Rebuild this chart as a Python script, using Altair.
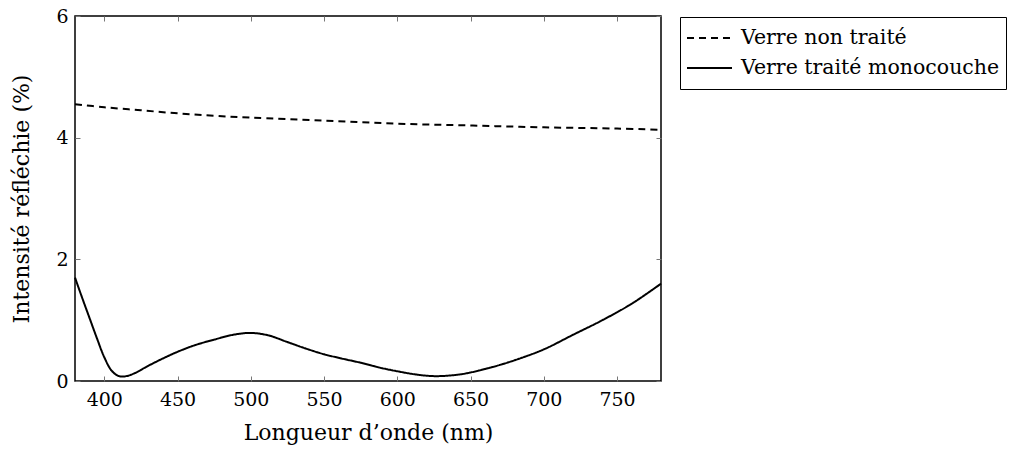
import altair as alt
import pandas as pd

series_names = ["Verre non traité", "Verre traité monocouche"]

nm_untreated = [380, 400, 425, 450, 475, 500, 550, 600, 650, 700, 750, 780]
r_untreated = [4.55, 4.50, 4.45, 4.40, 4.36, 4.33, 4.28, 4.23, 4.20, 4.17, 4.15, 4.13]

nm_treated = [380, 385, 390, 395, 400, 405, 410, 415, 420, 430, 440, 450, 462, 475, 488,
              500, 512, 525, 538, 550, 562, 575, 588, 600, 612, 625, 640, 650,
              665, 680, 700, 720, 740, 760, 780]
r_treated = [1.70, 1.36, 1.03, 0.70, 0.39, 0.17, 0.08, 0.08, 0.12, 0.25, 0.37, 0.48, 0.59, 0.68, 0.76,
             0.79, 0.75, 0.64, 0.53, 0.44, 0.37, 0.30, 0.22, 0.16, 0.11, 0.08, 0.10, 0.14,
             0.23, 0.34, 0.52, 0.76, 1.00, 1.27, 1.60]

x_ticks = [400, 450, 500, 550, 600, 650, 700, 750]
y_ticks = [0, 2, 4, 6]

df = pd.concat([
    pd.DataFrame({"nm": nm_untreated, "r": r_untreated, "serie": series_names[0]}),
    pd.DataFrame({"nm": nm_treated, "r": r_treated, "serie": series_names[1]}),
])

FONT = "DejaVu Serif"
xscale = alt.Scale(domain=[380, 780], nice=False, zero=False)
yscale = alt.Scale(domain=[0, 6], nice=False)

base_axis = dict(domain=False, grid=False, tickSize=5, tickColor="#777", tickWidth=1,
                 offset=-5, labelFont=FONT, labelFontSize=19, labelColor="black",
                 titleFont=FONT, titleFontSize=22, titleFontWeight="normal", titleColor="black")

lines = alt.Chart(df).mark_line(color="black", strokeWidth=2, interpolate="catmull-rom").encode(
    x=alt.X("nm:Q", scale=xscale,
            axis=alt.Axis(orient="bottom", values=x_ticks, title="Longueur d’onde (nm)",
                          labelPadding=9, titlePadding=13, **base_axis)),
    y=alt.Y("r:Q", scale=yscale,
            axis=alt.Axis(orient="left", values=y_ticks, title="Intensité réfléchie (%)",
                          labelPadding=7, titlePadding=22, **base_axis)),
    strokeDash=alt.StrokeDash("serie:N",
                              scale=alt.Scale(domain=series_names, range=[[7, 5], [1, 0]]),
                              legend=alt.Legend(title=None, orient="none", legendX=605, legendY=1,
                                                strokeColor="black", padding=6, fillColor="white",
                                                symbolType="stroke", symbolSize=2025,
                                                symbolStrokeWidth=2, symbolStrokeColor="black",
                                                labelFont=FONT, labelFontSize=20.5, labelColor="black",
                                                labelLimit=0, labelOffset=8, rowPadding=0,
                                                clipHeight=30)),
)

frame_axes = alt.Chart(df).mark_line(opacity=0).encode(
    x=alt.X("nm:Q", scale=xscale,
            axis=alt.Axis(orient="top", values=x_ticks, labels=False, title=None, **base_axis)),
    y=alt.Y("r:Q", scale=yscale,
            axis=alt.Axis(orient="right", values=y_ticks, labels=False, title=None, **base_axis)),
)

chart = alt.layer(lines, frame_axes).resolve_axis(x="independent", y="independent").properties(
    width=586, height=365,
    autosize=alt.AutoSizeParams(type="none"),
    padding={"left": 67, "top": 8, "right": 348, "bottom": 66},
    background="white",
).configure_view(stroke="black", strokeWidth=1.5)

chart.save("out.html", embed_options={"renderer": "svg", "actions": False})
